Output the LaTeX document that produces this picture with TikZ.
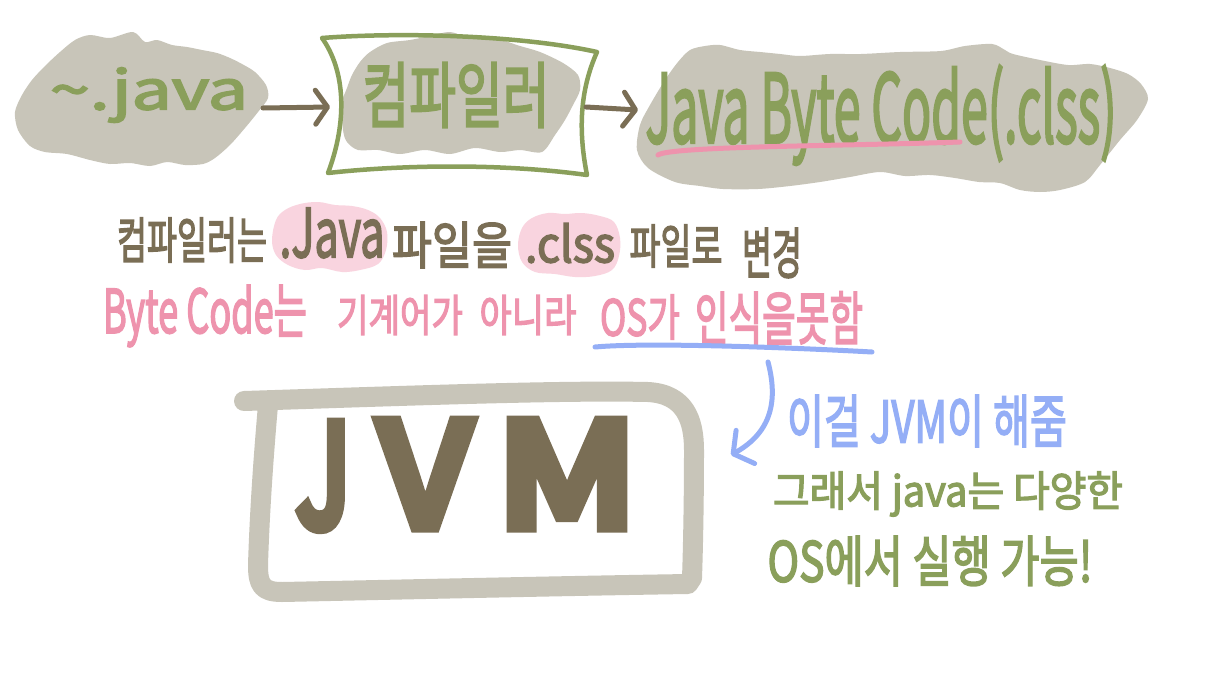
\documentclass[tikz,border=0pt]{standalone}
\usepackage{fontspec}
\setmainfont{Noto Sans CJK KR}
\newfontfamily\hw{Noto Sans CJK KR}[FakeBold=3]
\newfontfamily\hwj{Noto Sans CJK KR}[FakeBold=9]
\usetikzlibrary{arrows.meta}
\definecolor{blobgrey}{HTML}{C8C5B9}
\definecolor{hgreen}{HTML}{8A9F5B}
\definecolor{hbrown}{HTML}{7A6E55}
\definecolor{hpink}{HTML}{EE93AD}
\definecolor{lpink}{HTML}{F9D4DF}
\definecolor{hblue}{HTML}{94AEF6}
\newcommand{\fitt}[3]{\resizebox*{#1pt}{#2pt}{\hw #3}}
\tikzset{
  txt/.style={inner sep=0pt, outer sep=0pt, font=\hw\fontsize{40}{40}\selectfont},
  gtxt/.style={txt, text=hgreen},
  btxt/.style={txt, text=hbrown},
  ptxt/.style={txt, text=hpink},
  bltxt/.style={txt, text=hblue},
  area/.style={inner sep=0pt, outer sep=0pt, draw=none},
  blob/.style={fill=blobgrey},
  hilite/.style={fill=lpink},
  arr/.style={draw=hbrown, line width=5pt, line cap=round, line join=round,
    -{Straight Barb[length=12pt,width=34pt,round]}},
  barr/.style={draw=hblue, line width=5pt, line cap=round, line join=round,
    -{Straight Barb[length=14pt,width=38pt,round]}},
  greenbox/.style={draw=hgreen, line width=4.5pt, line cap=round, line join=round},
  jvmbox/.style={draw=blobgrey, line width=20pt, line cap=round, line join=round},
  pinkln/.style={draw=hpink, line width=5pt, line cap=round},
  blueln/.style={draw=hblue, line width=5pt, line cap=round},
}
\begin{document}
\begin{tikzpicture}[x=1pt,y=-1pt]
\fill[white] (0,0) rectangle (1218,680);
\useasboundingbox (0,0) rectangle (1218,680);

% grey blobs
\fill[blob] plot[smooth cycle, tension=0.5] coordinates {(18,130) (15,112) (22,95) (32,80) (45,66) (60,52) (75,40) (90,35) (110,38) (133,32) (145,42) (157,40) (172,45) (187,47) (202,50) (217,53) (230,58) (242,64) (255,72) (266,85) (268,98) (258,112) (245,128) (230,145) (215,158) (203,164) (185,165) (167,162) (150,166) (130,163) (110,164) (90,160) (67,154) (45,152) (30,146)};
\fill[blob] plot[smooth cycle, tension=0.5] coordinates {(343,130) (342,103) (347,88) (352,75) (360,62) (370,52) (387,43) (410,40) (430,36) (450,32) (470,38) (500,40) (520,46) (540,52) (563,63) (578,75) (580,90) (573,105) (565,120) (555,135) (542,152) (520,150) (500,152) (475,148) (450,154) (425,150) (400,154) (378,150) (358,150) (347,142)};
\fill[blob] plot[smooth cycle, tension=0.5] coordinates {(637,150) (640,125) (650,105) (665,80) (678,62) (690,50) (705,46) (720,45) (740,50) (760,52) (780,54) (800,56) (830,54) (861,54) (900,52) (941,51) (965,46) (992,44) (1005,50) (1013,54) (1040,60) (1068,65) (1090,64) (1110,68) (1128,74) (1141,84) (1148,99) (1137,120) (1120,140) (1100,165) (1085,182) (1060,190) (1040,192) (1020,190) (1000,183) (979,182) (955,178) (930,175) (905,176) (880,172) (850,177) (820,182) (790,186) (758,189) (723,189) (700,186) (675,182) (648,168)};

% pink highlights
\fill[hilite] plot[smooth cycle, tension=0.6] coordinates {(272,240) (276,220) (285,210) (300,204) (318,202) (335,205) (352,206) (368,210) (380,218) (387,232) (386,250) (378,264) (360,270) (342,272) (322,268) (305,270) (288,265) (276,255)};
\fill[hilite] plot[smooth cycle, tension=0.6] coordinates {(518,245) (522,228) (532,218) (548,213) (565,214) (582,213) (600,216) (614,222) (620,238) (619,256) (612,270) (595,276) (575,277) (555,274) (535,272) (522,262)};

% areas used as connector ends
\node[area, minimum width=242pt, minimum height=130pt] (jblob) at (142,108) {};
\node[area, minimum width=256pt, minimum height=138pt] (compbox) at (458,107) {};
\node[area, minimum width=508pt, minimum height=150pt] (bcblob) at (892,110) {};

% top texts
\node[gtxt] (javaTxt) at (149,95) {\fitt{198}{55}{\textasciitilde.java}};
\node[gtxt] (compTxt) at (456,95) {\fitt{187}{65}{컴파일러}};
\node[gtxt] (bcTxt) at (881,115) {\fitt{471}{100}{Java Byte Code(.clss)}};

% compiler box
\draw[greenbox] (322,38) .. controls (400,32) and (520,35) .. (597,52)
  .. controls (580,90) and (578,130) .. (587,175)
  .. controls (500,163) and (400,165) .. (328,173)
  .. controls (348,120) and (345,70) .. (322,38) -- cycle;

% arrows
\draw[arr] (jblob.east) -- (compbox.west);
\draw[arr] (compbox.east) -- (bcblob.west);

% pink underline
\draw[pinkln] (658,155) .. controls (670,146) and (850,146) .. (960,142);

% line 2
\node[btxt] (l2a) at (192,240) {\fitt{150}{45}{컴파일러는}};
\node[btxt] (l2b) at (332,233) {\fitt{105}{50}{.Java}};
\node[btxt] (l2c) at (452,245) {\fitt{120}{46}{파일을}};
\node[btxt] (l2d) at (570,243) {\fitt{90}{40}{.clss}};
\node[btxt] (l2e) at (676,246) {\fitt{93}{43}{파일로}};
\node[btxt] (l2f) at (772,253) {\fitt{60}{50}{변경}};

% line 3
\node[ptxt] (l3a) at (205,316) {\fitt{204}{62}{Byte Code는}};
\node[ptxt] (l3b) at (400,315) {\fitt{126}{40}{기계어가}};
\node[ptxt] (l3c) at (528,315) {\fitt{97}{40}{아니라}};
\node[ptxt] (l3d) at (640,317) {\fitt{80}{45}{OS가}};
\node[ptxt] (l3e) at (779,318) {\fitt{168}{53}{인식을못함}};

% blue underline and arrow
\draw[blueln] (595,347) .. controls (650,342) and (800,348) .. (872,352);
\coordinate (bstart) at (768,362);
\coordinate (btip) at (731,455);
\draw[barr] (bstart) .. controls (778,400) and (772,432) .. (btip);
\node[bltxt] (jvmNote) at (927,421) {\fitt{280}{52}{이걸 JVM이 해줌}};

% JVM box
\draw[jvmbox] (244,401) .. controls (400,396) and (560,390) .. (648,392)
  .. controls (685,394) and (694,420) .. (694,450)
  .. controls (694,500) and (693,550) .. (692,578)
  -- (688,584)
  .. controls (560,586) and (380,590) .. (282,592)
  .. controls (262,592) and (258,585) .. (258,565)
  .. controls (260,500) and (265,440) .. (268,405);
\node[btxt] (jvm) at (467,475) {\resizebox*{53pt}{104pt}{\hwj J}\hspace{30pt}\resizebox*{90pt}{104pt}{\hwj V}\hspace{27pt}\resizebox*{140pt}{104pt}{\hwj M}};

% green notes
\node[gtxt] (note1) at (948,494) {\fitt{350}{45}{그래서 java는 다양한}};
\node[gtxt] (note2) at (930,561) {\fitt{325}{50}{OS에서 실행 가능!}};
\end{tikzpicture}
\end{document}
